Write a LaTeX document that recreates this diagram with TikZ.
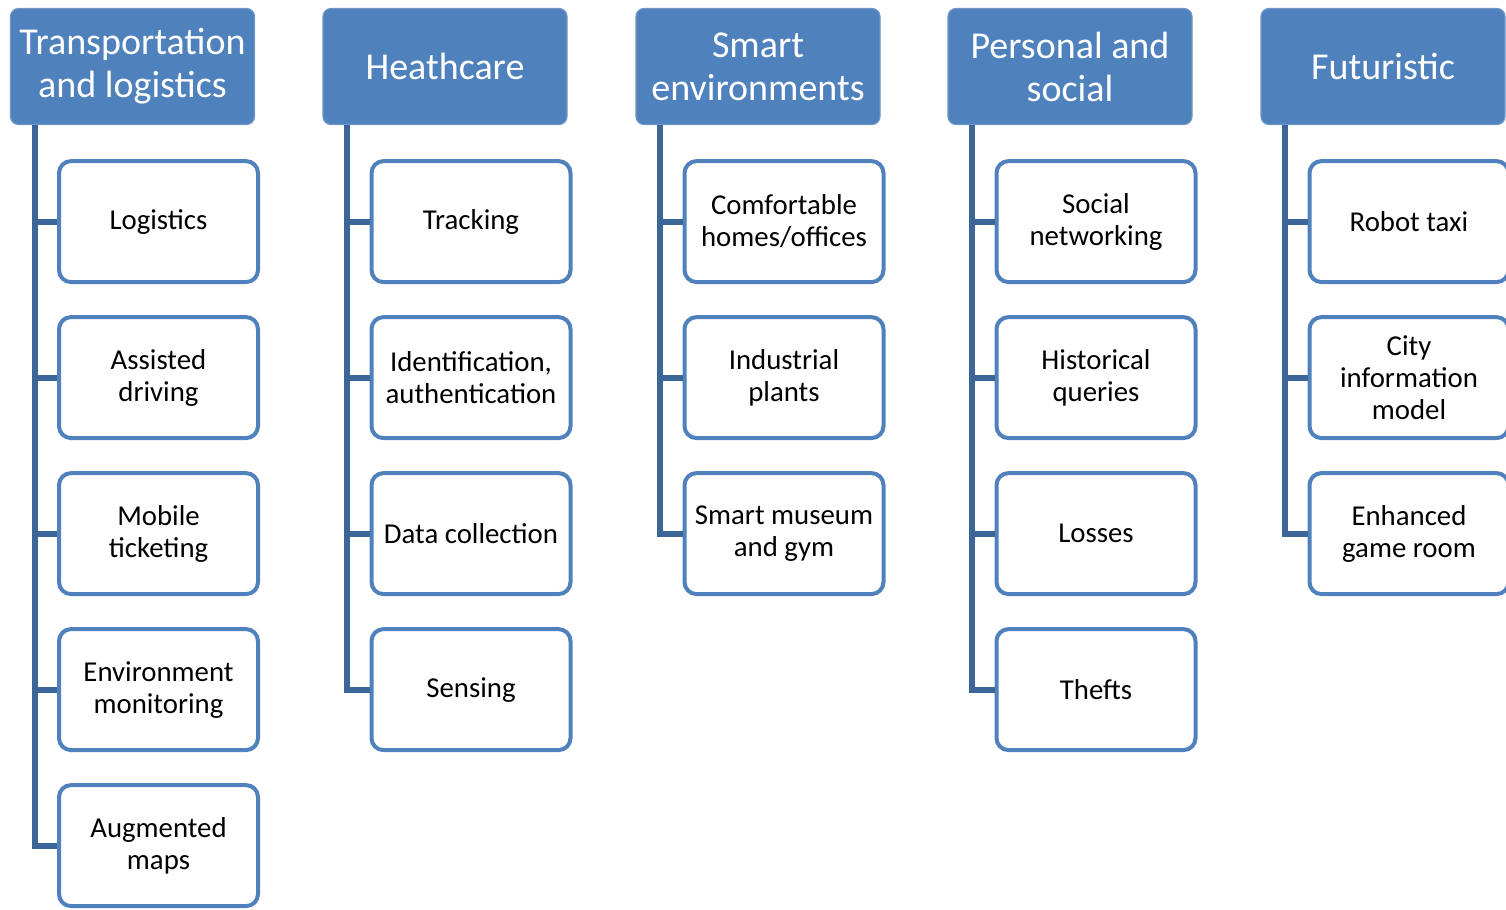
\documentclass[tikz,border=0pt]{standalone}
\usepackage{fontspec}
\setmainfont{Carlito}
\usepackage{xcolor}
\usepackage{tikz}
\usetikzlibrary{positioning}
\definecolor{hdrBlue}{HTML}{4F81BD}
\definecolor{hdrEdge}{HTML}{6E97C8}
\definecolor{trunkBlue}{HTML}{3C6698}
\tikzset{
  hdrBox/.style={draw=hdrEdge, fill=hdrBlue, line width=0.6pt, rounded corners=4pt,
    minimum width=122pt, minimum height=58pt, align=center, text=white,
    font=\fontsize{19}{21.5}\selectfont},
  itemBox/.style={draw=hdrBlue, fill=white, line width=2pt, rounded corners=6pt,
    minimum width=99.5pt, minimum height=60.5pt, align=center, text=black, inner sep=1pt,
    font=\fontsize{14.4}{16}\selectfont},
  trunk/.style={draw=trunkBlue, line width=3pt},
  node distance=15.5pt,
}

\begin{document}
\begin{tikzpicture}
  \useasboundingbox (0,0) rectangle (753pt,-455pt);

  % headers
  \node[hdrBox] (tl) at (66.25pt,-33.25pt) {Transportation\\and logistics};
  \node[hdrBox] (hc) at (222.5pt,-33.25pt) {Heathcare};
  \node[hdrBox] (se) at (379pt,-33.25pt) {Smart\\environments};
  \node[hdrBox] (ps) at (535pt,-33.25pt) {Personal and\\social};
  \node[hdrBox] (fu) at (691.5pt,-33.25pt) {Futuristic};

  % transportation and logistics
  \node[itemBox, below=17pt of tl, xshift=13pt] (tl1) {Logistics};
  \node[itemBox, below=of tl1] (tl2) {Assisted\\driving};
  \node[itemBox, below=of tl2] (tl3) {Mobile\\ticketing};
  \node[itemBox, below=of tl3] (tl4) {Environment\\monitoring};
  \node[itemBox, below=of tl4] (tl5) {Augmented\\maps};

  % healthcare
  \node[itemBox, below=17pt of hc, xshift=13pt] (hc1) {Tracking};
  \node[itemBox, below=of hc1] (hc2) {Identification,\\authentication};
  \node[itemBox, below=of hc2] (hc3) {Data collection};
  \node[itemBox, below=of hc3] (hc4) {Sensing};

  % smart environments
  \node[itemBox, below=17pt of se, xshift=13pt] (se1) {Comfortable\\homes/offices};
  \node[itemBox, below=of se1] (se2) {Industrial\\plants};
  \node[itemBox, below=of se2] (se3) {Smart museum\\and gym};

  % personal and social
  \node[itemBox, below=17pt of ps, xshift=13pt] (ps1) {Social\\networking};
  \node[itemBox, below=of ps1] (ps2) {Historical\\queries};
  \node[itemBox, below=of ps2] (ps3) {Losses};
  \node[itemBox, below=of ps3] (ps4) {Thefts};

  % futuristic
  \node[itemBox, below=17pt of fu, xshift=13pt] (fu1) {Robot taxi};
  \node[itemBox, below=of fu1] (fu2) {City\\information\\model};
  \node[itemBox, below=of fu2] (fu3) {Enhanced\\game room};

  % trunks
  \coordinate (tlTop) at ([xshift=12.5pt]tl.south west);
  \coordinate (hcTop) at ([xshift=12.5pt]hc.south west);
  \coordinate (seTop) at ([xshift=12.5pt]se.south west);
  \coordinate (psTop) at ([xshift=12.5pt]ps.south west);
  \coordinate (fuTop) at ([xshift=12.5pt]fu.south west);

  \draw[trunk] (tlTop) |- (tl5.west);
  \draw[trunk] (tlTop |- tl1.west) -- (tl1.west);
  \draw[trunk] (tlTop |- tl2.west) -- (tl2.west);
  \draw[trunk] (tlTop |- tl3.west) -- (tl3.west);
  \draw[trunk] (tlTop |- tl4.west) -- (tl4.west);

  \draw[trunk] (hcTop) |- (hc4.west);
  \draw[trunk] (hcTop |- hc1.west) -- (hc1.west);
  \draw[trunk] (hcTop |- hc2.west) -- (hc2.west);
  \draw[trunk] (hcTop |- hc3.west) -- (hc3.west);

  \draw[trunk] (seTop) |- (se3.west);
  \draw[trunk] (seTop |- se1.west) -- (se1.west);
  \draw[trunk] (seTop |- se2.west) -- (se2.west);

  \draw[trunk] (psTop) |- (ps4.west);
  \draw[trunk] (psTop |- ps1.west) -- (ps1.west);
  \draw[trunk] (psTop |- ps2.west) -- (ps2.west);
  \draw[trunk] (psTop |- ps3.west) -- (ps3.west);

  \draw[trunk] (fuTop) |- (fu3.west);
  \draw[trunk] (fuTop |- fu1.west) -- (fu1.west);
  \draw[trunk] (fuTop |- fu2.west) -- (fu2.west);
\end{tikzpicture}
\end{document}
